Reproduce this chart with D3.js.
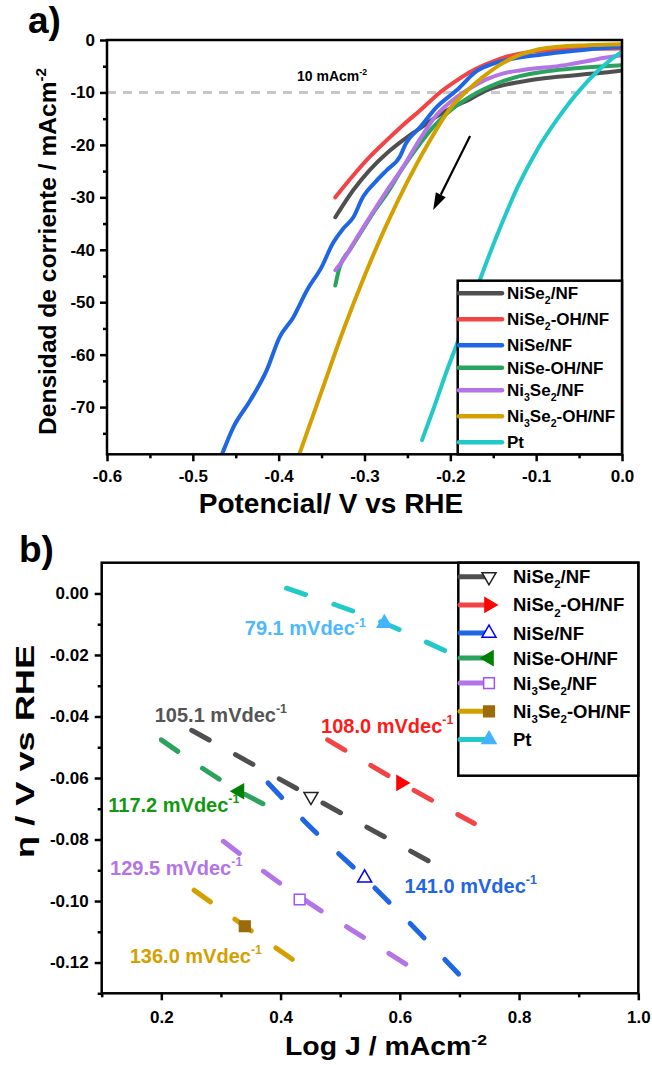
<!DOCTYPE html>
<html>
<head>
<meta charset="utf-8">
<title>HER: LSV y Tafel</title>
<script src="https://cdn.jsdelivr.net/npm/d3@7"></script>
<style>
  body { margin: 0; background: #fff; }
  svg { display: block; font-family: "Liberation Sans", Arial, sans-serif; font-weight: bold; }
  .axis text { font-size: 17px; font-weight: bold; fill: #000; font-family: "Liberation Sans", Arial, sans-serif; }
  .axis line { stroke: #000; stroke-width: 2.5; }
  .axis .domain { display: none; }
</style>
</head>
<body>
<svg id="chart" width="652" height="1065"></svg>
<script>
// series names, _{..} = subindice, ^{..} = superindice
const labels = ["NiSe_{2}/NF", "NiSe_{2}-OH/NF", "NiSe/NF", "NiSe-OH/NF", "Ni_{3}Se_{2}/NF", "Ni_{3}Se_{2}-OH/NF", "Pt"];
const lineColors = ["#4f4f4f", "#f24444", "#1f66e5", "#2ca25f", "#b274e6", "#d4a000", "#22c9c9"];

// a) LSV  [potencial V, j mA cm-2]
const lsvNiSe2 = [[-0.334,-33.8],[-0.313,-28.6],[-0.294,-24.8],[-0.274,-21.6],[-0.255,-19.1],[-0.235,-16.8],[-0.216,-14.6],[-0.197,-12.8],[-0.177,-11.3],[-0.158,-9.6],[-0.138,-8.6],[-0.119,-8.0],[-0.1,-7.5],[-0.08,-7.1],[-0.06,-6.8],[-0.041,-6.5],[-0.02,-6.2],[0,-5.8]];
const lsvNiSe2OH = [[-0.334,-30.0],[-0.313,-25.8],[-0.294,-22.3],[-0.274,-19.1],[-0.255,-16.2],[-0.235,-13.4],[-0.212,-10.0],[-0.195,-8.0],[-0.177,-6.1],[-0.158,-4.6],[-0.139,-3.4],[-0.119,-2.6],[-0.099,-2.1],[-0.08,-1.9],[-0.05,-1.7],[0,-1.6]];
const lsvNiSe = [[-0.466,-79],[-0.453,-73.9],[-0.433,-68.7],[-0.414,-63.0],[-0.399,-56.7],[-0.383,-52.9],[-0.367,-47.7],[-0.35,-43.3],[-0.337,-38.8],[-0.325,-36.0],[-0.313,-33.8],[-0.302,-30.0],[-0.287,-27.0],[-0.274,-24.8],[-0.259,-22.3],[-0.252,-19.8],[-0.235,-16.6],[-0.216,-12.8],[-0.192,-9.5],[-0.169,-5.9],[-0.15,-4.5],[-0.134,-3.8],[-0.1,-2.9],[-0.08,-2.5],[-0.04,-1.8],[0,-1.3]];
const lsvNiSeOH = [[-0.334,-46.8],[-0.329,-43.3],[-0.317,-40.0],[-0.305,-36.9],[-0.29,-33.0],[-0.274,-29.3],[-0.255,-24.3],[-0.235,-19.7],[-0.22,-16.6],[-0.204,-14.0],[-0.19,-12.2],[-0.177,-10.8],[-0.16,-9.3],[-0.146,-8.3],[-0.119,-6.9],[-0.09,-6.0],[-0.061,-5.5],[-0.03,-5.1],[0,-4.8]];
const lsvNi3Se2 = [[-0.334,-43.9],[-0.325,-42.0],[-0.31,-38.0],[-0.294,-33.8],[-0.275,-29.0],[-0.255,-24.2],[-0.235,-18.8],[-0.216,-14.3],[-0.195,-11.2],[-0.177,-9.2],[-0.158,-7.5],[-0.139,-6.4],[-0.119,-5.8],[-0.1,-5.4],[-0.08,-5.1],[-0.06,-4.6],[-0.04,-4.0],[-0.02,-3.4],[0,-2.9]];
const lsvNi3Se2OH = [[-0.376,-79],[-0.35,-67.0],[-0.325,-55.5],[-0.3,-45.0],[-0.275,-35.5],[-0.25,-27.0],[-0.225,-19.5],[-0.2,-13.0],[-0.18,-9.6],[-0.16,-6.8],[-0.14,-4.5],[-0.12,-2.9],[-0.1,-1.9],[-0.08,-1.4],[-0.04,-1.0],[0,-0.8]];
const lsvPt = [[-0.233,-76.3],[-0.22,-70.5],[-0.205,-63.5],[-0.192,-57.8],[-0.175,-50.0],[-0.157,-42.0],[-0.14,-35.0],[-0.12,-27.5],[-0.099,-21.0],[-0.075,-15.0],[-0.049,-9.5],[-0.03,-6.2],[-0.015,-4.0],[0,-2.2]];
const lsvSeries = [lsvNiSe2, lsvNiSe2OH, lsvNiSe, lsvNiSeOH, lsvNi3Se2, lsvNi3Se2OH, lsvPt];

const refCurrent = -10;
const arrowFrom = [-0.177, -18.3];
const arrowTo = [-0.220, -32.4];
const xTicksA = [-0.6, -0.5, -0.4, -0.3, -0.2, -0.1, 0.0];
const yTicksA = [0, -10, -20, -30, -40, -50, -60, -70];

// b) Tafel  [log j, eta V]
const tafelNiSe2 = [[0.251,-0.0445],[0.451,-0.066],[0.675,-0.0898]];
const tafelNiSe2OH = [[0.479,-0.0476],[0.602,-0.0616],[0.725,-0.0748]];
const tafelNiSe = [[0.379,-0.0616],[0.443,-0.0746],[0.541,-0.0925],[0.722,-0.1285]];
const tafelNiSeOH = [[0.2,-0.0476],[0.331,-0.0643],[0.39,-0.0703]];
const tafelNi3Se2 = [[0.304,-0.0806],[0.41,-0.0957],[0.563,-0.1147],[0.611,-0.1206]];
const tafelNi3Se2OH = [[0.255,-0.0965],[0.34,-0.1082],[0.432,-0.1206]];
const tafelPt = [[0.41,0.0017],[0.574,-0.0097],[0.70,-0.0207],[0.74,-0.024]];
const tafelSeries = [tafelNiSe2, tafelNiSe2OH, tafelNiSe, tafelNiSeOH, tafelNi3Se2, tafelNi3Se2OH, tafelPt];

const markerPoints = [[0.451,-0.066],[0.602,-0.0616],[0.541,-0.0925],[0.331,-0.0643],[0.432,-0.0995],[0.34,-0.1082],[0.574,-0.0097]];
const markerShapes = ["down", "right", "up", "left", "square", "square", "up"];
const markerFill = ["#fff", "#ff0000", "#fff", "#008000", "#fff", "#9c6c0c", "#42b4ff"];
const markerStroke = ["#222", "#ff0000", "#0000ff", "#008000", "#a050ff", "#9c6c0c", "#42b4ff"];

const slopeValues = ["105.1", "108.0", "141.0", "117.2", "129.5", "136.0", "79.1"];
const slopeColors = ["#555555", "#ff1a1a", "#1f66e5", "#119911", "#b274e6", "#d4a000", "#4db8ff"];
const slopeAnchors = [[0.189,-0.0417],[0.468,-0.0453],[0.608,-0.0973],[0.111,-0.0709],[0.114,-0.0914],[0.147,-0.1200],[0.340,-0.0135]];
const xTicksB = [0.2, 0.4, 0.6, 0.8, 1.0];
const yTicksB = [0.00, -0.02, -0.04, -0.06, -0.08, -0.10, -0.12];

const svg = d3.select("#chart");

function richText(text, str, fs) {
  const parts = str.split(/([_^]\{[^}]*\})/).filter(s => s.length);
  let shift = 0;
  parts.forEach(p => {
    const m = p.match(/^([_^])\{([^}]*)\}$/);
    if (m) {
      const d = m[1] == "_" ? 0.28 * fs : -0.42 * fs;
      text.append("tspan").attr("dy", d - shift).style("font-size", (0.62 * fs) + "px").text(m[2]);
      shift = d;
    } else {
      text.append("tspan").attr("dy", -shift).text(p);
      shift = 0;
    }
  });
  return text;
}

function drawAxes(box, x, y, xt, yt, xMinor, yMinor, fx, fy, padX, padY) {
  svg.append("g").attr("class", "axis").attr("transform", `translate(0,${box.bottom})`)
    .call(d3.axisBottom(x).tickValues(xt).tickFormat(fx).tickSize(7).tickPadding(padX));
  svg.append("g").attr("class", "axis").attr("transform", `translate(0,${box.bottom})`)
    .call(d3.axisBottom(x).tickValues(xMinor).tickFormat("").tickSize(4));
  svg.append("g").attr("class", "axis").attr("transform", `translate(${box.left},0)`)
    .call(d3.axisLeft(y).tickValues(yt).tickFormat(fy).tickSize(7).tickPadding(padY));
  svg.append("g").attr("class", "axis").attr("transform", `translate(${box.left},0)`)
    .call(d3.axisLeft(y).tickValues(yMinor).tickFormat("").tickSize(4));
}

function frame(box) {
  svg.append("rect").attr("x", box.left).attr("y", box.top)
    .attr("width", box.right - box.left).attr("height", box.bottom - box.top)
    .attr("fill", "none").attr("stroke", "#000").attr("stroke-width", 2.5);
}

function symbolPath(shape, size) {
  if (shape == "square") return d3.symbol(d3.symbolSquare, size * 1.35)();
  return d3.symbol(d3.symbolTriangle, size)();
}
const shapeRot = { up: 0, down: 180, right: 90, left: -90, square: 0 };

// ---------------- a) ----------------
const A = { left: 107, right: 622, top: 40, bottom: 454.3 };
const xA = d3.scaleLinear().domain([-0.6, 0]).range([A.left, A.right]);
const yA = d3.scaleLinear().domain([-79, 0]).range([A.bottom, A.top]);

svg.append("clipPath").attr("id", "clipA").append("rect")
  .attr("x", A.left).attr("y", A.top).attr("width", A.right - A.left).attr("height", A.bottom - A.top);

svg.append("line").attr("x1", xA(-0.6)).attr("x2", xA(0)).attr("y1", yA(refCurrent)).attr("y2", yA(refCurrent))
  .attr("stroke", "#c8c8c8").attr("stroke-width", 3).attr("stroke-dasharray", "9,7");

const lineA = d3.line().x(d => xA(d[0])).y(d => yA(d[1])).curve(d3.curveMonotoneX);
svg.append("g").attr("clip-path", "url(#clipA)").selectAll("path").data(lsvSeries).join("path")
  .attr("d", lineA).attr("fill", "none").attr("stroke", (d, i) => lineColors[i])
  .attr("stroke-width", 4).attr("stroke-linecap", "round").attr("stroke-linejoin", "round");

// arrow
{
  const x1 = xA(arrowFrom[0]), y1 = yA(arrowFrom[1]), x2 = xA(arrowTo[0]), y2 = yA(arrowTo[1]);
  const ang = Math.atan2(y2 - y1, x2 - x1), L = 17, W = 5.5;
  const bx = x2 - L * Math.cos(ang), by = y2 - L * Math.sin(ang);
  svg.append("line").attr("x1", x1).attr("y1", y1).attr("x2", bx).attr("y2", by)
    .attr("stroke", "#000").attr("stroke-width", 2.2);
  svg.append("path").attr("fill", "#000").attr("d",
    `M${x2},${y2}L${bx + W * Math.sin(ang)},${by - W * Math.cos(ang)}L${bx - W * Math.sin(ang)},${by + W * Math.cos(ang)}Z`);
}

richText(svg.append("text").attr("x", 297).attr("y", 81).style("font-size", "14px"), "10 mAcm^{-2}", 14);

frame(A);
drawAxes(A, xA, yA, xTicksA, yTicksA, d3.range(-0.55, 0, 0.1), d3.range(-5, -80, -10),
  d => d.toFixed(1), d => String(d), 9, 5);

// legend a
{
  const lg = svg.append("g");
  lg.append("rect").attr("x", 457.7).attr("y", 280.7).attr("width", A.right - 457.7).attr("height", A.bottom - 280.7)
    .attr("fill", "#fff").attr("stroke", "#000").attr("stroke-width", 2.5);
  let yy = 293.3;
  labels.forEach((lab, i) => {
    lg.append("line").attr("x1", 459).attr("x2", 502).attr("y1", yy).attr("y2", yy)
      .attr("stroke", lineColors[i]).attr("stroke-width", 4.5).attr("stroke-linecap", "round");
    richText(lg.append("text").attr("x", 507).attr("y", yy + 6).style("font-size", "17px"), lab, 17);
    yy += lab.includes("_") ? 26 : 22.5;
  });
}

svg.append("text").attr("x", 331).attr("y", 513).attr("text-anchor", "middle")
  .style("font-size", "28px").text("Potencial/ V vs RHE");
richText(svg.append("text").attr("transform", "translate(55.5,251.5) rotate(-90)").attr("text-anchor", "middle")
  .attr("textLength", 367).attr("lengthAdjust", "spacingAndGlyphs").style("font-size", "23px"),
  "Densidad de corriente / mAcm^{-2}", 23);
svg.append("text").attr("x", 28).attr("y", 33).style("font-size", "37px").text("a)");

// ---------------- b) ----------------
const B = { left: 101.7, right: 638.3, top: 562.7, bottom: 993.3 };
const xB = d3.scaleLinear().domain([0.1, 1.0]).range([B.left, B.right]);
const yB = d3.scaleLinear().domain([-0.13, 0.01]).range([B.bottom, B.top]);

svg.append("clipPath").attr("id", "clipB").append("rect")
  .attr("x", B.left).attr("y", B.top).attr("width", B.right - B.left).attr("height", B.bottom - B.top);

const lineB = d3.line().x(d => xB(d[0])).y(d => yB(d[1])).curve(d3.curveMonotoneX);
svg.append("g").attr("clip-path", "url(#clipB)").selectAll("path").data(tafelSeries).join("path")
  .attr("d", lineB).attr("fill", "none").attr("stroke", (d, i) => lineColors[i])
  .attr("stroke-width", 5).attr("stroke-linecap", "round").attr("stroke-dasharray", "20,30");

svg.append("g").selectAll("path").data(markerPoints).join("path")
  .attr("d", (d, i) => symbolPath(markerShapes[i], 85))
  .attr("transform", (d, i) => `translate(${xB(d[0])},${yB(d[1])}) rotate(${shapeRot[markerShapes[i]]})`)
  .attr("fill", (d, i) => markerFill[i]).attr("stroke", (d, i) => markerStroke[i]).attr("stroke-width", 1.5);

slopeAnchors.forEach((p, i) => {
  richText(svg.append("text").attr("x", xB(p[0])).attr("y", yB(p[1])).attr("fill", slopeColors[i])
    .style("font-size", "20px"), slopeValues[i] + " mVdec^{-1}", 20);
});

frame(B);
drawAxes(B, xB, yB, xTicksB, yTicksB, d3.range(0.1, 1.0, 0.2), d3.range(-0.01, -0.135, -0.02),
  d => d.toFixed(1), d => d.toFixed(2), 11, 6);

// legend b
{
  const lg = svg.append("g");
  lg.append("rect").attr("x", 458.3).attr("y", B.top).attr("width", B.right - 458.3).attr("height", 775.7 - B.top)
    .attr("fill", "#fff").attr("stroke", "#000").attr("stroke-width", 2.5);
  let yy = 576.7;
  labels.forEach((lab, i) => {
    lg.append("line").attr("x1", 460).attr("x2", 487).attr("y1", yy).attr("y2", yy)
      .attr("stroke", lineColors[i]).attr("stroke-width", 5).attr("stroke-linecap", "round");
    lg.append("path").attr("d", symbolPath(markerShapes[i], 85))
      .attr("transform", `translate(489,${yy}) rotate(${shapeRot[markerShapes[i]]})`)
      .attr("fill", markerFill[i]).attr("stroke", markerStroke[i]).attr("stroke-width", 1.5);
    richText(lg.append("text").attr("x", 513).attr("y", yy + 6.5).style("font-size", "18.5px"), lab, 18.5);
    yy += lab.includes("_") ? 28.2 : 25;
  });
}

richText(svg.append("text").attr("x", 386).attr("y", 1055).attr("text-anchor", "middle")
  .attr("textLength", 202).attr("lengthAdjust", "spacingAndGlyphs").style("font-size", "25px"),
  "Log J / mAcm^{-2}", 25);
svg.append("text").attr("transform", "translate(33.5,751.5) rotate(-90)").attr("text-anchor", "middle")
  .attr("textLength", 213).attr("lengthAdjust", "spacingAndGlyphs").style("font-size", "26px")
  .text("η / V vs RHE");
svg.append("text").attr("x", 19).attr("y", 562).style("font-size", "37px").text("b)");
</script>
</body>
</html>
